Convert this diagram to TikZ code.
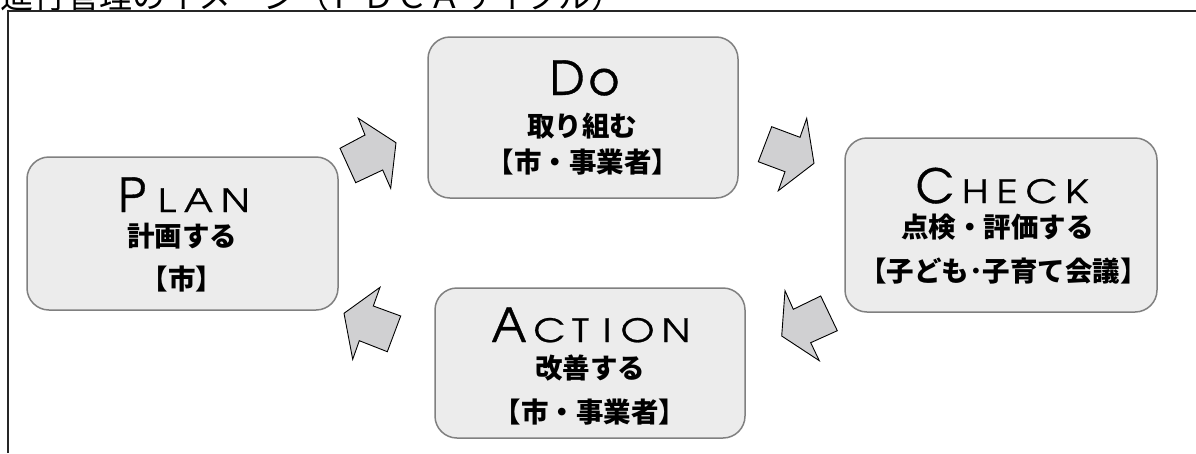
\documentclass[tikz,border=0pt]{standalone}
\usepackage{fontspec}
\newfontfamily\jp{Noto Sans CJK JP}
\newfontfamily\adv{texgyreadventor-regular.otf}[FakeBold=0.8]
\newfontfamily\advs{texgyreadventor-regular.otf}[FakeStretch=1.22,FakeBold=0.8]
\newcommand\capL[1]{{\adv\fontsize{47pt}{47pt}\selectfont #1}}
\newcommand\scL[1]{{\advs\fontsize{32pt}{32pt}\selectfont #1}}
\definecolor{boxfill}{HTML}{ECECEC}
\definecolor{boxline}{HTML}{808080}
\definecolor{arrfill}{HTML}{D0D0D2}
\definecolor{framec}{HTML}{262626}
\begin{document}
\begin{tikzpicture}[x=1pt,y=-1pt,
  box/.style={draw=boxline, line width=1.5pt, fill=boxfill, rounded corners=22pt, inner sep=0},
  jpt/.style={font=\jp\bfseries\fontsize{27.5pt}{27.5pt}\selectfont, anchor=base, inner sep=0},
  ttl/.style={anchor=base, inner sep=0},
  blockarrow/.style={draw=black, line width=0.9pt, fill=arrfill, line join=miter},
  framel/.style={draw=framec, line width=2pt}]
\useasboundingbox (0,0) rectangle (1196,453);
\fill[white] (0,0) rectangle (1196,453);
% title (cut off at the top)
\begin{scope}
\clip (0,0) rectangle (1196,453);
\node[anchor=base west, inner sep=0, font=\jp\fontsize{33pt}{33pt}\selectfont] (title) at (0,8) {進行管理のイメージ（ＰＤＣＡサイクル）};
\end{scope}
% frame
\coordinate (fl) at (8,453);
\coordinate (fc) at (8,11);
\coordinate (fr) at (1196,11);
\draw[framel] (fl) -- (fc) -- (fr);
% boxes
\node[box, minimum width=311pt, minimum height=153pt] (plan) at (182.5,233.5) {};
\node[box, minimum width=310pt, minimum height=161pt] (do) at (583,117.5) {};
\node[box, minimum width=312pt, minimum height=174pt] (check) at (1001,225) {};
\node[box, minimum width=310pt, minimum height=150pt] (act) at (590,363) {};
% PLAN
\node[ttl] (planT) at (184,212) {\capL{P}\kern12pt\scL{L}\kern8pt\scL{A}\kern8pt\scL{N}};
\node[jpt] (planA) at (182,246) {計画する};
\node[jpt] (planB) at (182,289) {【市】};
% DO
\node[ttl] (doT) at (584.5,95) {\capL{D}\kern4pt\capL{o}};
\node[jpt] (doA) at (582,136) {取り組む};
\node[jpt] (doB) at (583,172) {【市・事業者】};
% CHECK
\node[ttl] (checkT) at (1002,203) {\capL{C}\kern8pt\scL{H}\kern8pt\scL{E}\kern8pt\scL{C}\kern8pt\scL{K}};
\node[jpt] (checkA) at (997.5,237) {点検・評価する};
\node[jpt] (checkB) at (1003.5,281) {【子ども･子育て会議】};
% ACTION
\node[ttl] (actT) at (591,342) {\capL{A}\kern7pt\scL{C}\kern7pt\scL{T}\kern14pt\scL{I}\kern9pt\scL{O}\kern7pt\scL{N}};
\node[jpt] (actA) at (590,378) {改善する};
\node[jpt] (actB) at (590,422) {【市・事業者】};
% block arrows
\draw[blockarrow] (396,142.7) -- (358.3,118.3) -- (365,135) -- (340,148.3) -- (355.7,182.7) -- (382.7,170) -- (390.7,188.3) -- cycle;
\draw[blockarrow] (814,163.3) -- (806.7,118.3) -- (800,137.3) -- (771.7,126.7) -- (758.3,161.7) -- (785,171.7) -- (778.3,190.7) -- cycle;
\draw[blockarrow] (781.7,336) -- (785,290.7) -- (793.3,309.3) -- (820.7,296) -- (837.3,330.7) -- (810.7,342.7) -- (819.3,360.7) -- cycle;
\draw[blockarrow] (344,313.3) -- (380,287.3) -- (373.3,306) -- (400.7,316) -- (387.3,351.7) -- (359.3,340.7) -- (352.7,359.3) -- cycle;
\end{tikzpicture}
\end{document}
